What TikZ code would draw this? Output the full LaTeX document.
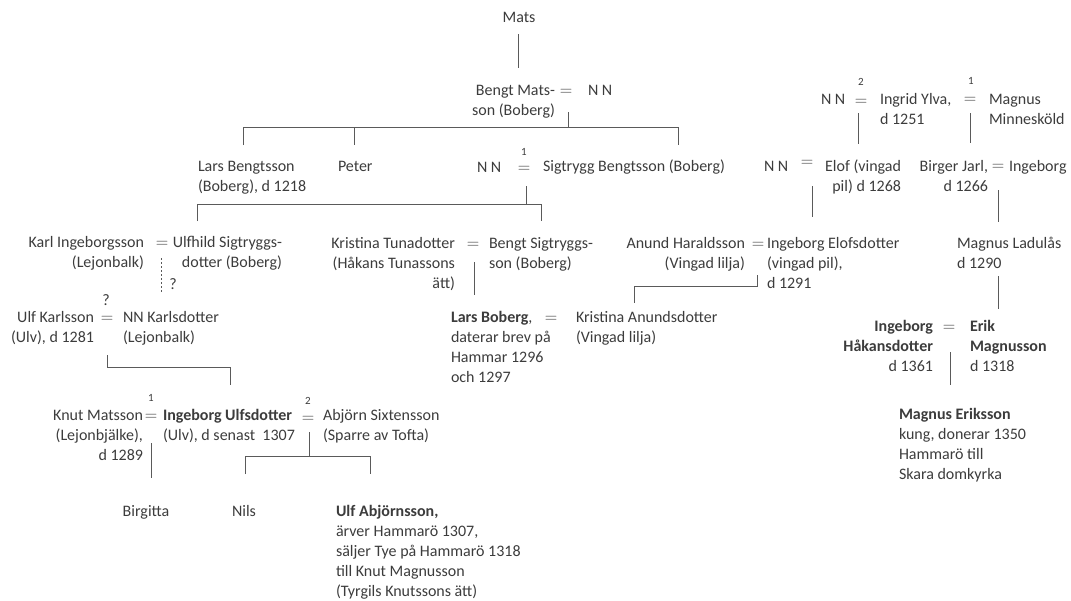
\documentclass[tikz,border=0pt]{standalone}
\usepackage{fontspec}
\setmainfont{Carlito}
\definecolor{txt}{HTML}{3C3C3C}
\definecolor{ln}{HTML}{5A5A5A}
\newcommand\Lt[1]{\begin{tabular}[t]{@{}l@{}}#1\end{tabular}}
\newcommand\Rt[1]{\begin{tabular}[t]{@{}r@{}}#1\end{tabular}}
\tikzset{
  person/.style={inner sep=0pt, outer sep=0pt, text=txt, font=\fontsize{16}{20}\selectfont},
  pw/.style={person, anchor=base west},
  pe/.style={person, anchor=base east},
  pc/.style={person, anchor=base},
  eqs/.style={inner sep=0pt, outer sep=0pt, text=txt, font=\fontsize{19}{20}\selectfont, anchor=base, execute at begin node={$}, execute at end node={$}},
  sup/.style={inner sep=0pt, outer sep=0pt, text=txt, font=\fontsize{11}{13}\selectfont},
  line/.style={draw=ln, line width=1pt},
  dotline/.style={draw=ln, line width=1pt, dash pattern=on 2pt off 2pt},
}
\begin{document}
\begin{tikzpicture}[x=1pt,y=-1pt]
\useasboundingbox (0,0) rectangle (1071,600);
% ---------- generation 0/1
\node[pc] (mats) at (519,22) {Mats};
\node[pe] (bengt) at (555,95) {\Rt{Bengt Mats-\\son (Boberg)}};
\node[eqs] (eqA) at (566,95) {=};
\node[pw] (nnA) at (588,95) {N N};
% ---------- generation 2 left
\node[pw] (lars) at (198,171) {\Lt{Lars Bengtsson\\(Boberg), d 1218}};
\node[pw] (peter) at (338,171) {Peter};
\node[pw] (nnB) at (477,172) {N N};
\node[eqs] (eqB) at (524,172) {=};
\node[sup] (supB) at (524,152) {1};
\node[pw] (sig) at (543,171) {Sigtrygg Bengtsson (Boberg)};
% ---------- right top
\node[pw] (nnC) at (821,104) {N N};
\node[eqs] (eqC) at (861,105) {=};
\node[sup] (supC) at (861,82) {2};
\node[pw] (ingrid) at (880,104) {\Lt{Ingrid Ylva,\\d 1251}};
\node[eqs] (eqD) at (970,103) {=};
\node[sup] (supD) at (971,81) {1};
\node[pw] (minne) at (989,104) {\Lt{Magnus\\Minnesköld}};
% ---------- right gen 2
\node[pw] (nnE) at (764,171) {N N};
\node[eqs] (eqE) at (807,166) {=};
\node[pe] (elof) at (901,171) {\Rt{Elof (vingad\\pil) d 1268}};
\node[pe] (birger) at (988,171) {\Rt{Birger Jarl,\\d 1266}};
\node[eqs] (eqF) at (998,170) {=};
\node[pw] (ingebF) at (1009,171) {Ingeborg};
% ---------- generation 3
\node[pe] (karl) at (144,247) {\Rt{Karl Ingeborgsson\\(Lejonbalk)}};
\node[eqs] (eqG) at (162,247) {=};
\node[pe] (ulfhild) at (282,247) {\Rt{Ulfhild Sigtryggs-\\dotter (Boberg)}};
\node[pe] (kristT) at (455,248) {\Rt{Kristina Tunadotter\\(Håkans Tunassons\\ätt)}};
\node[eqs] (eqH) at (473,248) {=};
\node[pw] (bengtS) at (489,248) {\Lt{Bengt Sigtryggs-\\son (Boberg)}};
\node[pe] (anund) at (745,248) {\Rt{Anund Haraldsson\\(Vingad lilja)}};
\node[eqs] (eqI) at (758,248) {=};
\node[pw] (ingebE) at (767,248) {\Lt{Ingeborg Elofsdotter\\(vingad pil),\\d 1291}};
\node[pw] (ladulas) at (957,248) {\Lt{Magnus Ladulås\\d 1290}};
\node[person] (qA) at (173,284) {?};
% ---------- generation 4
\node[pe] (ulfK) at (94,322) {\Rt{Ulf Karlsson\\(Ulv), d 1281}};
\node[eqs] (eqJ) at (107,322) {=};
\node[person] (qB) at (106,300) {?};
\node[pw] (nnK) at (123,322) {\Lt{NN Karlsdotter\\(Lejonbalk)}};
\node[pw] (larsB) at (451,322) {\Lt{\textbf{Lars Boberg}, \\daterar brev på\\Hammar 1296\\och 1297}};
\node[eqs] (eqK) at (551,322) {=};
\node[pw] (kristA) at (576,322) {\Lt{Kristina Anundsdotter\\(Vingad lilja)}};
\node[pe] (ingH) at (933,331) {\Rt{\textbf{Ingeborg}\\\textbf{Håkansdotter}\\d 1361}};
\node[eqs] (eqL) at (949,331) {=};
\node[pw] (erik) at (970,331) {\Lt{\textbf{Erik}\\\textbf{Magnusson}\\d 1318}};
% ---------- generation 5
\node[pe] (knut) at (143,420) {\Rt{Knut Matsson\\(Lejonbjälke),\\d 1289}};
\node[eqs] (eqM) at (151,420) {=};
\node[sup] (supM) at (151,398) {1};
\node[pw] (ingU) at (163,420) {\Lt{\textbf{Ingeborg Ulfsdotter}\\(Ulv), d senast\ \ 1307}};
\node[eqs] (eqN) at (308,422) {=};
\node[sup] (supN) at (308,401) {2};
\node[pw] (abjorn) at (323,420) {\Lt{Abjörn Sixtensson\\(Sparre av Tofta)}};
\node[pw] (magE) at (899,419) {\Lt{\textbf{Magnus Eriksson}\\kung, donerar 1350\\Hammarö till\\Skara domkyrka}};
% ---------- generation 6
\node[pc] (birgitta) at (146,516) {Birgitta};
\node[pc] (nils) at (244,516) {Nils};
\node[pw] (ulfA) at (336,516) {\Lt{\textbf{Ulf Abjörnsson,}\\ärver Hammarö 1307,\\säljer Tye på Hammarö 1318\\till Knut Magnusson\\(Tyrgils Knutssons ätt)}};
% ---------- connectors
\coordinate (mA) at (518,34);
\coordinate (mB) at (518,68);
\draw[line] (mA) -- (mB);
\coordinate (jA) at (568,112);
\coordinate (jAb) at (568,127);
\coordinate (barAl) at (243,127);
\coordinate (barAr) at (678,127);
\coordinate (barAm) at (354,127);
\draw[line] (jA) -- (jAb);
\draw[line] (243,145) -- (barAl) -- (barAr) -- (678,145);
\draw[line] (barAm) -- (354,145);
\coordinate (jB) at (526,186);
\coordinate (jBb) at (526,204);
\draw[line] (jB) -- (jBb);
\draw[line] (197,221) -- (197,204) -- (541,204) -- (541,221);
\coordinate (jC) at (858,113);
\draw[line] (jC) -- (858,144);
\coordinate (jD) at (970,113);
\draw[line] (jD) -- (970,143);
\coordinate (jE) at (812,186);
\draw[line] (jE) -- (812,217);
\coordinate (jF) at (998,190);
\draw[line] (jF) -- (998,222);
\coordinate (jG) at (161,258);
\draw[dotline] (jG) -- (161,292);
\coordinate (jH) at (474,262);
\draw[line] (jH) -- (474,295);
\coordinate (jI) at (757,275);
\draw[line] (jI) -- (757,286) -- (634,286) -- (634,303);
\coordinate (jL) at (998,276);
\draw[line] (jL) -- (998,309);
\coordinate (jJ) at (107,355);
\draw[line] (jJ) -- (107,367) -- (230,367) -- (230,385);
\coordinate (jK) at (950,352);
\draw[line] (jK) -- (950,385);
\coordinate (jM) at (151,443);
\draw[line] (jM) -- (151,478);
\coordinate (jN) at (309,432);
\draw[line] (jN) -- (309,456);
\draw[line] (245,474) -- (245,456) -- (370,456) -- (370,474);
\end{tikzpicture}
\end{document}
